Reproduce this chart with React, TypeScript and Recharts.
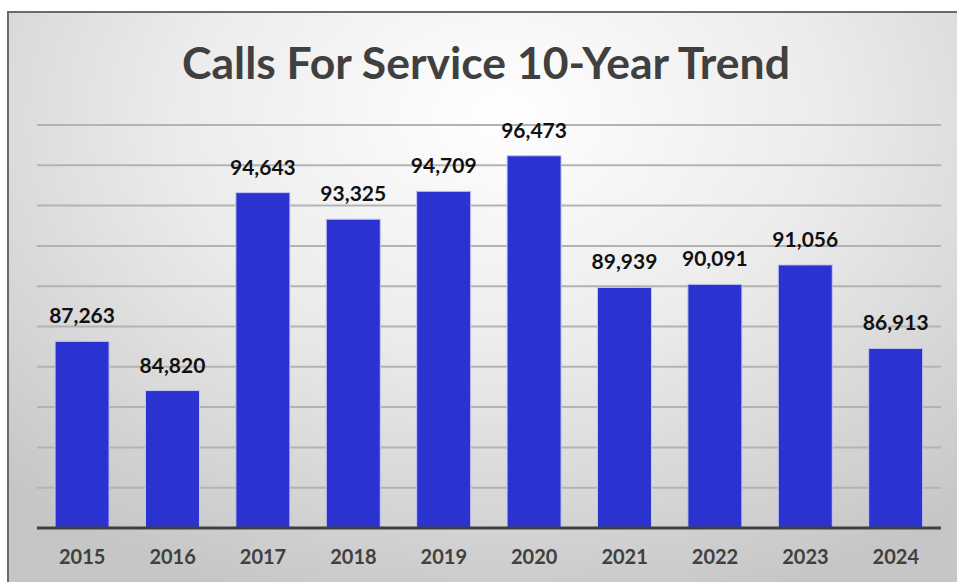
import { BarChart, Bar, XAxis, YAxis, CartesianGrid, LabelList } from 'recharts';

const years = ['2015', '2016', '2017', '2018', '2019', '2020', '2021', '2022', '2023', '2024'];
const calls = [87263, 84820, 94643, 93325, 94709, 96473, 89939, 90091, 91056, 86913];
const yTicks = [78000, 80000, 82000, 84000, 86000, 88000, 90000, 92000, 94000, 96000, 98000];

const data = years.map((y, i) => ({ year: y, calls: calls[i] }));

const FONT = 'Lato, "Open Sans", sans-serif';

export default function App() {
  return (
    <div
      style={{
        position: 'absolute',
        left: 7,
        top: 11,
        width: 950,
        height: 571,
        borderLeft: '2px solid #6b6b6b',
        borderTop: '2px solid #6b6b6b',
        boxSizing: 'border-box',
        background: 'radial-gradient(ellipse 75% 90% at 52% 18%, #ffffff 0%, #ececec 45%, #c6c6c6 100%)',
        overflow: 'hidden',
        fontFamily: FONT,
      }}
    >
      <div
        style={{
          position: 'absolute',
          left: -2,
          top: 22,
          width: 958,
          textAlign: 'center',
          fontSize: 44.5,
          fontWeight: 700,
          color: '#404040',
        }}
      >
        Calls For Service 10-Year Trend
      </div>
      <BarChart
        width={948}
        height={569}
        data={data}
        margin={{ top: 112, right: 16, left: 28, bottom: 14 }}
        barCategoryGap="20%"
      >
        <CartesianGrid vertical={false} stroke="#b3b3b3" strokeWidth={2} />
        <YAxis hide domain={[78000, 98000]} ticks={yTicks} />
        <XAxis
          dataKey="year"
          height={40}
          axisLine={{ stroke: '#404040', strokeWidth: 3 }}
          tickLine={false}
          tick={{ fill: '#404040', fontSize: 20, fontWeight: 700, fontFamily: FONT }}
          tickMargin={16}
        />
        <Bar dataKey="calls" fill="#2a32cf" stroke="#c4c6f2" strokeWidth={1} isAnimationActive={false}>
          <LabelList
            dataKey="calls"
            position="top"
            offset={18}
            formatter={(v: number) => v.toLocaleString('en-US')}
            style={{ fill: '#111', fontSize: 21, fontWeight: 700, fontFamily: FONT }}
          />
        </Bar>
      </BarChart>
    </div>
  );
}
